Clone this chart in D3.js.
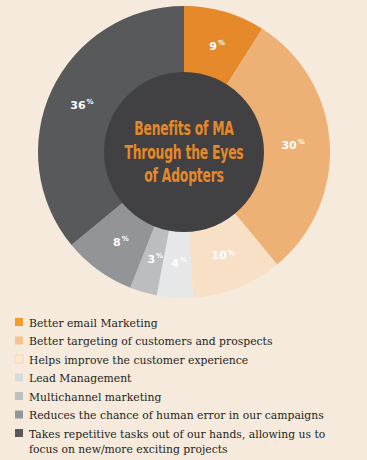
<!DOCTYPE html>
<html>
<head>
<meta charset="utf-8">
<script src="https://cdn.jsdelivr.net/npm/d3@7"></script>
<style>
  html, body { margin: 0; padding: 0; background: #f5eadc; }
  svg { display: block; }
</style>
</head>
<body>
<svg id="chart"></svg>
<script>
const categories = [
  'Better email Marketing',
  'Better targeting of customers and prospects',
  'Helps improve the customer experience',
  'Lead Management',
  'Multichannel marketing',
  'Reduces the chance of human error in our campaigns',
  'Takes repetitive tasks out of our hands, allowing us to|focus on new/more exciting projects'
];
const values = [9, 30, 10, 4, 3, 8, 36];
const sliceColors = ['#e5892a', '#edb075', '#f8e0c6', '#e6e7e8', '#bcbdbf', '#929497', '#58595b'];
const legendColors = ['#f39c2b', '#f8c48e', '#fde8d6', '#d9dadc', '#bfc0c2', '#949598', '#58595b'];
const titleLines = ['Benefits of MA', 'Through the Eyes', 'of Adopters'];

const width = 367, height = 460;
const cx = 184, cy = 152;
const outerR = 146, innerR = 80;

const svg = d3.select('#chart')
  .attr('width', width)
  .attr('height', height);

svg.append('rect')
  .attr('width', width)
  .attr('height', height)
  .attr('fill', '#f5eadc');

const g = svg.append('g')
  .attr('transform', `translate(${cx},${cy})`);

const pie = d3.pie().sort(null).value(d => d);
const arcs = pie(values);

const arc = d3.arc().innerRadius(innerR - 2).outerRadius(outerR);
const labelArc = d3.arc().innerRadius(111).outerRadius(111);

g.selectAll('path.slice')
  .data(arcs)
  .join('path')
  .attr('class', 'slice')
  .attr('d', arc)
  .attr('fill', (d, i) => sliceColors[i]);

// center disc
g.append('circle')
  .attr('r', innerR)
  .attr('fill', '#414042');

// percent labels: number + small raised % sign as separate texts
const pct = g.selectAll('g.pct')
  .data(arcs)
  .join('g')
  .attr('class', 'pct')
  .attr('transform', d => `translate(${labelArc.centroid(d)})`)
  .style('font-family', '"DejaVu Sans", sans-serif')
  .style('font-weight', 'bold')
  .attr('fill', '#ffffff');

pct.append('text')
  .attr('text-anchor', 'end')
  .attr('x', 2)
  .attr('dy', '0.38em')
  .style('font-size', '11px')
  .text(d => d.data);

pct.append('text')
  .attr('text-anchor', 'start')
  .attr('x', 3)
  .attr('dy', '-0.1em')
  .style('font-size', '7px')
  .text('%');

// title squeezed horizontally to mimic the narrow display face
const title = g.append('g').attr('transform', 'scale(0.65,1)');
title.selectAll('text.title')
  .data(titleLines)
  .join('text')
  .attr('class', 'title')
  .attr('text-anchor', 'middle')
  .attr('y', (d, i) => -17 + i * 23.5)
  .attr('fill', '#e5892a')
  .style('font-family', '"DejaVu Sans", sans-serif')
  .style('font-weight', 'bold')
  .style('font-size', '19px')
  .style('letter-spacing', '-0.3px')
  .text(d => d);

// legend
const legend = svg.append('g').attr('transform', 'translate(15,318)');
const rowH = 18.5;
const items = legend.selectAll('g.item')
  .data(categories)
  .join('g')
  .attr('class', 'item')
  .attr('transform', (d, i) => `translate(0,${i * rowH})`);

items.append('rect')
  .attr('width', 8)
  .attr('height', 8)
  .attr('fill', (d, i) => legendColors[i])
  .attr('stroke', (d, i) => i === 2 ? '#f4cfae' : 'none')
  .attr('stroke-width', 0.8);

items.append('text')
  .attr('x', 14)
  .attr('y', 8.5)
  .attr('fill', '#231f20')
  .style('font-family', '"DejaVu Serif", serif')
  .style('font-size', '10.8px')
  .selectAll('tspan')
  .data(d => d.split('|'))
  .join('tspan')
  .attr('x', 14)
  .attr('dy', (d, i) => i === 0 ? 0 : 15)
  .text(d => d);
</script>
</body>
</html>
